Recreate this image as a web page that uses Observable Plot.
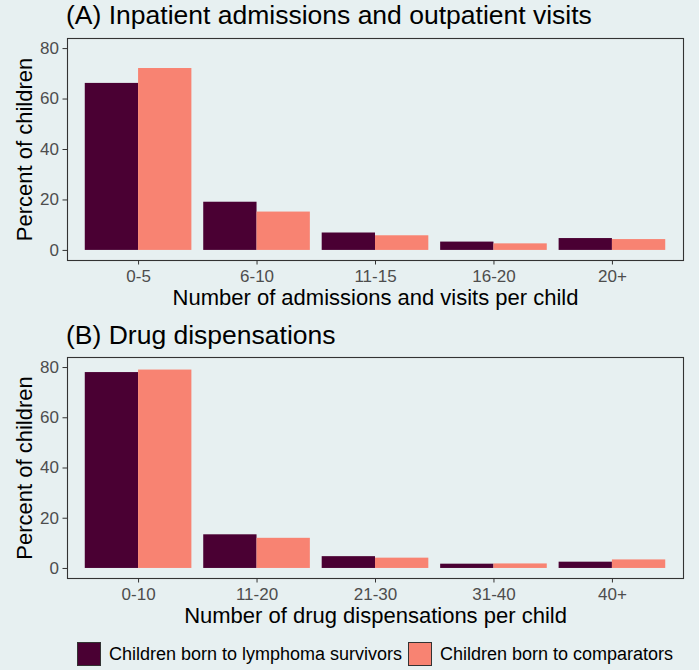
<!DOCTYPE html>
<html>
<head>
<meta charset="utf-8">
<script src="https://cdn.jsdelivr.net/npm/d3@7"></script>
<script src="https://cdn.jsdelivr.net/npm/@observablehq/plot@0.6"></script>
<style>
  html, body { margin: 0; padding: 0; background: #e7f0f1; }
  #wrap { position: relative; width: 699px; height: 670px; overflow: hidden; background: #e7f0f1;
          font-family: "Liberation Sans", Arial, sans-serif; }
  .ptitle { position: absolute; left: 66px; font-size: 26.5px; line-height: 26.5px; color: #000; white-space: nowrap; }
  .panel { position: absolute; left: 0; }
  .legend { position: absolute; top: 642px; left: 0; width: 699px; height: 26px; }
  .item { position: absolute; top: 0; display: flex; align-items: center; font-size: 18px; color: #000; white-space: nowrap; }
  .sw { width: 22px; height: 22px; border: 1.3px solid #333; margin-right: 8px; }
</style>
</head>
<body>
<div id="wrap">
  <div class="panel" id="pA" style="top:0px"></div>
  <div class="panel" id="pB" style="top:320px"></div>
  <div class="ptitle" id="tA" style="top:2px"></div>
  <div class="ptitle" id="tB" style="top:321.5px"></div>
  <div class="legend" id="legend"></div>
</div>
<script>
// ---- data ----
const groups = ["Children born to lymphoma survivors", "Children born to comparators"];
const groupColors = ["#4a0033", "#f88372"];

const titleA = "(A) Inpatient admissions and outpatient visits";
const xLabelA = "Number of admissions and visits per child";
const categoriesA = ["0-5", "6-10", "11-15", "16-20", "20+"];
const survivorsA = [66.2, 19.1, 6.9, 3.3, 4.7];
const comparatorsA = [72.1, 15.2, 5.8, 2.6, 4.3];

const titleB = "(B) Drug dispensations";
const xLabelB = "Number of drug dispensations per child";
const categoriesB = ["0-10", "11-20", "21-30", "31-40", "40+"];
const survivorsB = [78.0, 13.4, 4.7, 1.7, 2.5];
const comparatorsB = [79.0, 12.0, 4.1, 1.8, 3.4];

const yLabel = "Percent of children";
const yTicks = [0, 20, 40, 60, 80];

// ---- drawing ----
const dodge = 0.45; // half of ggplot's 0.9 bar group width

function panel(categories, survivors, comparators, xLabel, marginTop, marginBottom) {
  const rows = categories.flatMap((cat, i) => [
    {cat, i, g: 0, group: groups[0], value: survivors[i]},
    {cat, i, g: 1, group: groups[1], value: comparators[i]}
  ]);
  return Plot.plot({
    width: 699,
    height: 320,
    marginTop, marginBottom,
    marginLeft: 67,
    marginRight: 16,
    style: {background: "transparent", fontFamily: "'Liberation Sans', Arial, sans-serif", fontSize: "17px", color: "#4d4d4d", overflow: "visible"},
    x: {domain: [-0.6, categories.length - 0.4]},
    y: {domain: [-4, 84]},
    color: {domain: groups, range: groupColors},
    marks: [
      Plot.rect(rows, {
        x1: d => d.i - dodge + dodge * d.g,
        x2: d => d.i + dodge * d.g,
        y1: () => 0,
        y2: "value",
        fill: "group"
      }),
      Plot.frame({stroke: "#333", strokeWidth: 1.1}),
      Plot.axisX({
        ticks: categories.map((_, i) => i),
        tickFormat: i => categories[i],
        tickSize: 4.5,
        tickPadding: 4.5,
        stroke: "#333",
        label: null
      }),
      Plot.axisY({
        ticks: yTicks,
        tickSize: 4.5,
        tickPadding: 4,
        stroke: "#333",
        label: null
      }),
      Plot.text([xLabel], {
        frameAnchor: "bottom",
        text: d => d,
        dy: 44.5,
        fontSize: 22,
        fill: "#000",
        textAnchor: "middle",
        lineAnchor: "bottom"
      }),
      Plot.text([yLabel], {
        frameAnchor: "left",
        text: d => d,
        dx: -35.5,
        rotate: -90,
        fontSize: 22,
        fill: "#000",
        textAnchor: "middle",
        lineAnchor: "bottom"
      })
    ]
  });
}

document.getElementById("tA").textContent = titleA;
document.getElementById("tB").textContent = titleB;
document.getElementById("pA").appendChild(panel(categoriesA, survivorsA, comparatorsA, xLabelA, 38, 60));
document.getElementById("pB").appendChild(panel(categoriesB, survivorsB, comparatorsB, xLabelB, 37, 62));

const legend = document.getElementById("legend");
const legendX = [77, 408];
groups.forEach((g, k) => {
  const item = document.createElement("div");
  item.className = "item";
  item.style.left = legendX[k] + "px";
  const sw = document.createElement("div");
  sw.className = "sw";
  sw.style.background = groupColors[k];
  const label = document.createElement("span");
  label.textContent = g;
  item.appendChild(sw);
  item.appendChild(label);
  legend.appendChild(item);
});
</script>
</body>
</html>
